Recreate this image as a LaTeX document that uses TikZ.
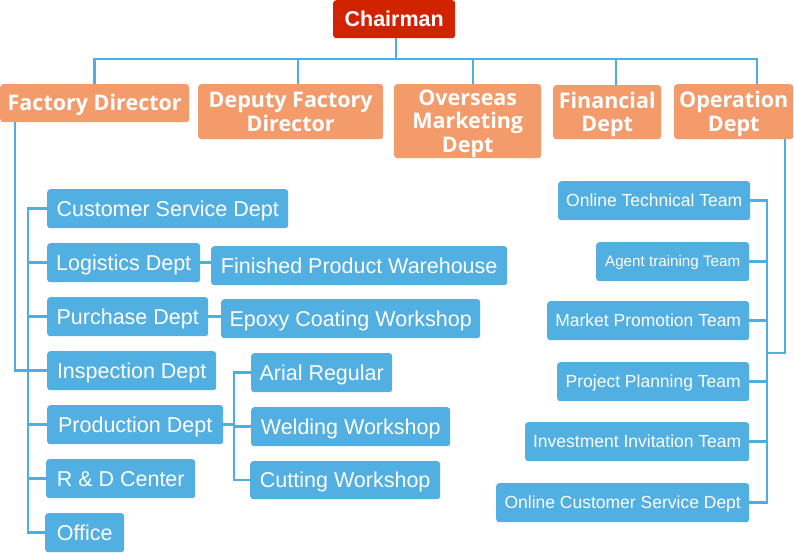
\documentclass[tikz,border=0pt]{standalone}
\usepackage{fontspec}
\setmainfont{Liberation Sans}
\newfontfamily\orgfont{Open Sans}
\usetikzlibrary{calc}
\definecolor{bluebox}{HTML}{52AFE1}
\definecolor{orgbox}{HTML}{F49B6B}
\definecolor{redbox}{HTML}{D22300}
\definecolor{lineblue}{HTML}{4DAEE0}
\newcommand\topstr{\rule{0pt}{21pt}}
\newcommand\botstr{\rule[-5.5pt]{0pt}{5.5pt}}
\tikzset{
  boxbase/.style={anchor=north west, inner sep=0pt, rounded corners=3pt, text=white, align=center},
  bbox/.style={boxbase, fill=bluebox, font=\fontsize{21.5}{24}\selectfont, text height=15pt, text depth=0pt},
  rbox/.style={boxbase, fill=bluebox, font=\fontsize{17.5}{20}\selectfont, text height=11pt, text depth=0pt},
  obox/.style={boxbase, fill=orgbox, font=\orgfont\bfseries\fontsize{21.5}{23.5}\selectfont},
  chbox/.style={boxbase, fill=redbox, font=\bfseries\fontsize{21.5}{24}\selectfont},
  conn/.style={draw=lineblue, line width=2.5pt}
}
\begin{document}
\begin{tikzpicture}[x=1pt,y=-1pt]
\useasboundingbox (0,0) rectangle (794,552);
% top
\node[chbox, minimum width=122pt, minimum height=38pt] (chair) at (333,0) {Chairman};
\node[obox, minimum width=189pt, minimum height=38pt] (fd) at (0,84) {\topstr Factory Director\botstr};
\node[obox, minimum width=185pt, minimum height=55pt] (dfd) at (198,84) {\topstr Deputy Factory\\Director\botstr};
\node[obox, minimum width=147pt, minimum height=74pt] (omd) at (394,84) {\topstr Overseas\\Marketing\\Dept\botstr};
\node[obox, minimum width=108pt, minimum height=54pt] (fin) at (553,85) {\topstr Financial\\Dept\botstr};
\node[obox, minimum width=119pt, minimum height=55pt] (opd) at (674,84) {\topstr Operation\\Dept\botstr};
% left column
\node[bbox, minimum width=241pt, minimum height=39pt] (csd) at (47,189) {Customer Service Dept};
\node[bbox, minimum width=153pt, minimum height=39pt] (log) at (47,243) {Logistics Dept};
\node[bbox, minimum width=296pt, minimum height=39pt] (fpw) at (211,246) {Finished Product Warehouse};
\node[bbox, minimum width=161pt, minimum height=39pt] (pur) at (47,297) {Purchase Dept};
\node[bbox, minimum width=259pt, minimum height=39pt] (epx) at (221,299) {Epoxy Coating Workshop};
\node[bbox, minimum width=169pt, minimum height=39pt] (insp) at (47,351) {Inspection Dept};
\node[bbox, minimum width=141pt, minimum height=39pt] (arial) at (251,353) {Arial Regular};
\node[bbox, minimum width=176pt, minimum height=39pt] (prod) at (47,405) {Production Dept};
\node[bbox, minimum width=199pt, minimum height=39pt] (weld) at (251,407) {Welding Workshop};
\node[bbox, minimum width=149pt, minimum height=39pt] (rd) at (46,459) {R \& D Center};
\node[bbox, minimum width=190pt, minimum height=38pt] (cut) at (250,461) {Cutting Workshop};
\node[bbox, minimum width=79pt, minimum height=39pt] (office) at (45,513) {Office};
% right column
\node[rbox, minimum width=192pt, minimum height=39pt] (otech) at (558,181) {Online Technical Team};
\node[rbox, minimum width=153pt, minimum height=39pt, font=\fontsize{15.2}{18}\selectfont, text height=10.4pt] (agent) at (596,242) {Agent training Team};
\node[rbox, minimum width=202pt, minimum height=39pt] (mkt) at (547,301) {Market Promotion Team};
\node[rbox, minimum width=192pt, minimum height=39pt] (proj) at (557,362) {Project Planning Team};
\node[rbox, minimum width=224pt, minimum height=39pt] (inv) at (525,422) {Investment Invitation Team};
\node[rbox, minimum width=253pt, minimum height=39pt] (ocsd) at (496,483) {Online Customer Service Dept};
% top connectors
\coordinate (bus) at (396,59);
\draw[conn] ([xshift=2pt]chair.south) -- ([xshift=2pt]chair.south |- bus);
\draw[conn] (fd.north) |- ([xshift=23.5pt]opd.north |- bus) -- ([xshift=23.5pt]opd.north);
\draw[conn] ([xshift=7.5pt]dfd.north) -- ([xshift=7.5pt]dfd.north |- bus);
\draw[conn] ([xshift=5.5pt]omd.north) -- ([xshift=5.5pt]omd.north |- bus);
\draw[conn] ([xshift=9pt]fin.north) -- ([xshift=9pt]fin.north |- bus);
% left tree
\coordinate (lb) at (28,0);
\draw[conn] ([xshift=15pt]fd.south west) |- (insp.west);
\draw[conn] (csd.west) -| (lb |- office.west) -- (office.west);
\draw[conn] (log.west) -- (log.west -| lb);
\draw[conn] (pur.west) -- (pur.west -| lb);
\draw[conn] (prod.west) -- (prod.west -| lb);
\draw[conn] (rd.west) -- (rd.west -| lb);
\draw[conn] (log.east) -- (log.east -| fpw.west);
\draw[conn] (pur.east) -- (pur.east -| epx.west);
\coordinate (pb) at (234,0);
\draw[conn] (prod.east) -- (prod.east -| pb);
\draw[conn] (arial.west) -| (pb |- cut.west) -- (cut.west);
\draw[conn] (weld.west) -- (weld.west -| pb);
% right tree
\coordinate (rb) at (767,0);
\draw[conn] (otech.east) -| (rb |- ocsd.east) -- (ocsd.east);
\draw[conn] (agent.east) -- (agent.east -| rb);
\draw[conn] (mkt.east) -- (mkt.east -| rb);
\draw[conn] (proj.east) -- (proj.east -| rb);
\draw[conn] (inv.east) -- (inv.east -| rb);
\coordinate (oj) at (767,353);
\draw[conn] ([xshift=111pt]opd.south west) |- (oj);
\end{tikzpicture}
\end{document}
